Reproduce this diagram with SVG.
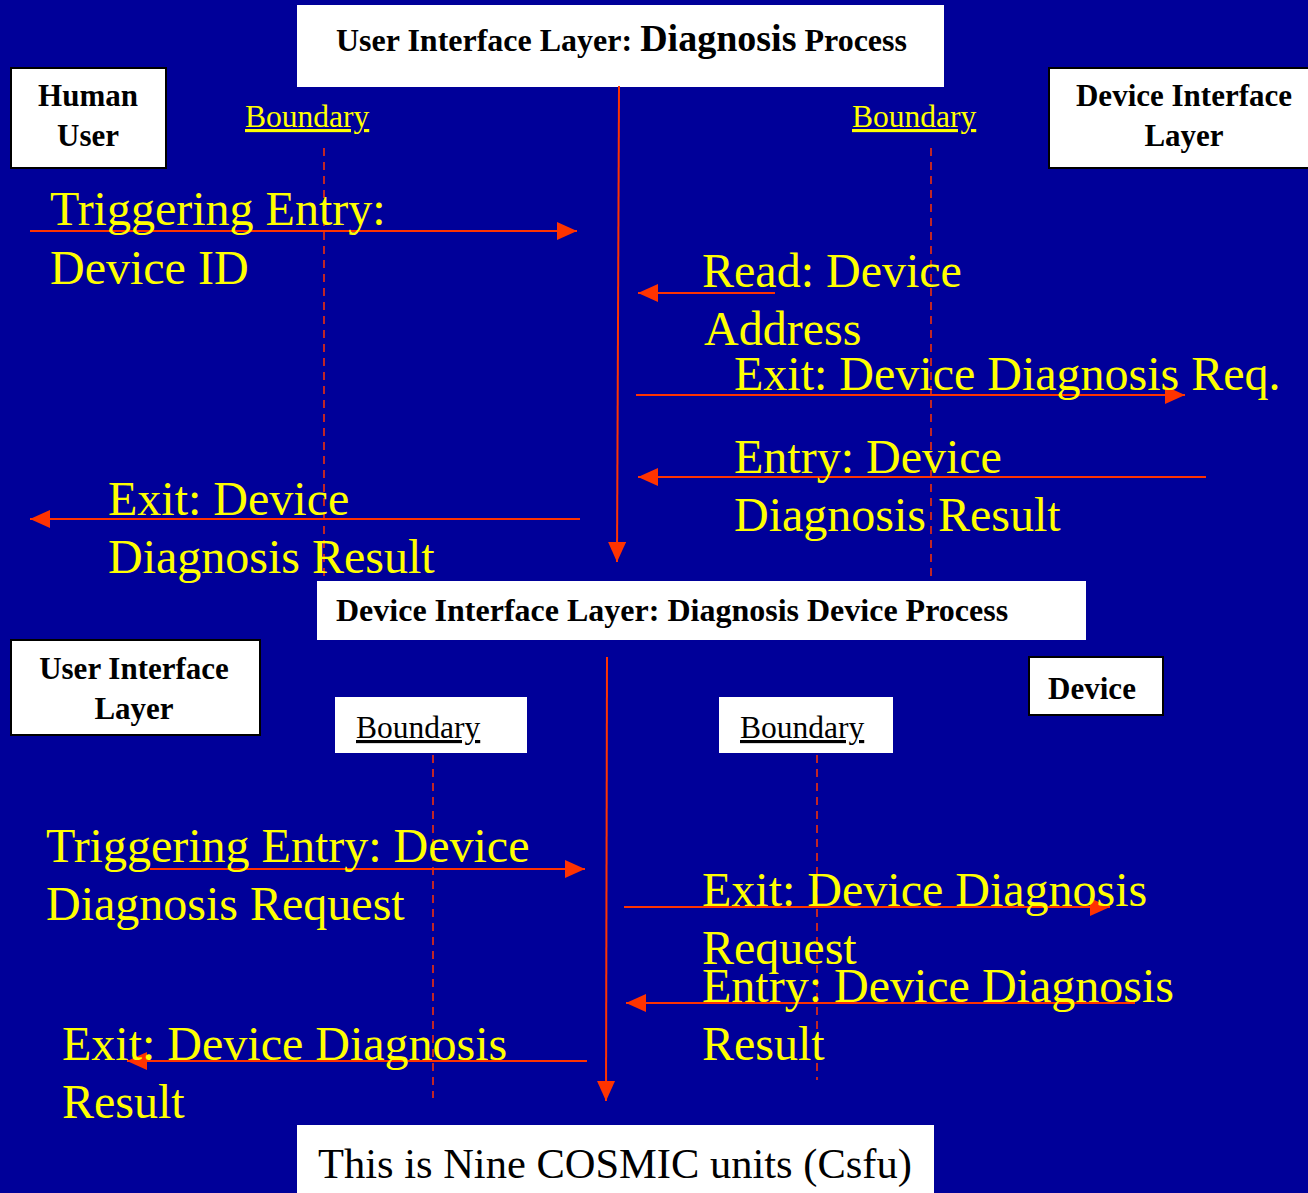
<svg xmlns="http://www.w3.org/2000/svg" width="1308" height="1193" viewBox="0 0 1308 1193">
  <defs>
    <marker id="head" viewBox="0 0 20 18" refX="20" refY="9" markerWidth="20" markerHeight="18" markerUnits="userSpaceOnUse" orient="auto">
      <path d="M0,0 L20,9 L0,18 Z" fill="#ff3300"/>
    </marker>
    <style>
      .box { fill: #ffffff; }
      .actor { fill: #ffffff; stroke: #000000; stroke-width: 2; }
      .bold { font-family: "Liberation Serif", "Times New Roman", serif; font-weight: bold; font-size: 31px; fill: #000000; }
      .title { font-size: 32px; }
      .msg { font-family: "Liberation Serif", "Times New Roman", serif; font-size: 48px; fill: #ffff00; }
      .bnd { font-family: "Liberation Serif", "Times New Roman", serif; font-size: 31.5px; text-decoration: underline; }
      .flow { stroke: #ff3300; stroke-width: 2; fill: none; marker-end: url(#head); }
      .dash { stroke: #ff3300; stroke-width: 1.5; stroke-dasharray: 8 6; fill: none; }
    </style>
  </defs>

  <rect x="0" y="0" width="1308" height="1193" fill="#000099"/>

  <!-- Upper scenario: user interface layer -->
  <g id="ui-process-title">
    <rect class="box" x="297" y="5" width="647" height="82"/>
    <text x="336" y="51" class="bold title">User Interface Layer: <tspan font-size="38px">Diagnosis</tspan> Process</text>
  </g>
  <g id="human-user">
    <rect class="actor" x="11" y="68" width="155" height="100"/>
    <text x="88" y="106" class="bold" text-anchor="middle">Human</text>
    <text x="88" y="146" class="bold" text-anchor="middle">User</text>
  </g>
  <g id="device-interface-layer">
    <rect class="actor" x="1049" y="68" width="270" height="100"/>
    <text x="1184" y="106" class="bold" text-anchor="middle">Device Interface</text>
    <text x="1184" y="146" class="bold" text-anchor="middle">Layer</text>
  </g>
  <g id="boundary-left-top">
    <text x="245" y="127" class="bnd" fill="#ffff00">Boundary</text>
  </g>
  <g id="boundary-right-top">
    <text x="852" y="127" class="bnd" fill="#ffff00">Boundary</text>
  </g>

  <!-- Lower scenario: device interface layer -->
  <g id="device-process-title">
    <rect class="box" x="317" y="581" width="769" height="59"/>
    <text x="336" y="621" class="bold title">Device Interface Layer: Diagnosis Device Process</text>
  </g>
  <g id="user-interface-layer">
    <rect class="actor" x="11" y="640" width="249" height="95"/>
    <text x="134" y="679" class="bold" text-anchor="middle">User Interface</text>
    <text x="134" y="719" class="bold" text-anchor="middle">Layer</text>
  </g>
  <g id="device">
    <rect class="actor" x="1029" y="657" width="134" height="58"/>
    <text x="1092" y="699" class="bold" text-anchor="middle">Device</text>
  </g>
  <g id="boundary-left-bottom">
    <rect class="box" x="335" y="697" width="192" height="56"/>
    <text x="356" y="738" class="bnd" fill="#000000">Boundary</text>
  </g>
  <g id="boundary-right-bottom">
    <rect class="box" x="719" y="697" width="174" height="56"/>
    <text x="740" y="738" class="bnd" fill="#000000">Boundary</text>
  </g>

  <g id="unit-count">
    <rect class="box" x="297" y="1125" width="637" height="75"/>
    <text x="318" y="1178" font-family="Liberation Serif, Times New Roman, serif" font-size="42.5" fill="#000000">This is Nine COSMIC units (Csfu)</text>
  </g>

  <!-- Lifelines, boundaries and data movements -->
  <g id="connectors">
    <line class="dash" x1="324" y1="148" x2="324" y2="578"/>
    <line class="dash" x1="931" y1="148" x2="931" y2="578"/>
    <line class="flow" x1="619" y1="86" x2="617" y2="562"/>

    <line class="flow" x1="30" y1="231" x2="577" y2="231"/>
    <line class="flow" x1="775" y1="293" x2="638" y2="293"/>
    <line class="flow" x1="636" y1="395" x2="1185" y2="395"/>
    <line class="flow" x1="1206" y1="477" x2="638" y2="477"/>
    <line class="flow" x1="580" y1="519" x2="30" y2="519"/>

    <line class="dash" x1="433" y1="755" x2="433" y2="1098"/>
    <line class="dash" x1="817" y1="755" x2="817" y2="1080"/>
    <line class="flow" x1="607" y1="657" x2="606" y2="1101"/>

    <line class="flow" x1="150" y1="869" x2="585" y2="869"/>
    <line class="flow" x1="624" y1="907" x2="1110" y2="907"/>
    <line class="flow" x1="1135" y1="1003" x2="626" y2="1003"/>
    <line class="flow" x1="587" y1="1061" x2="127" y2="1061"/>
  </g>

  <!-- Message labels -->
  <g id="labels">
    <text class="msg" x="50" y="225">Triggering Entry:</text>
    <text class="msg" x="50" y="284">Device ID</text>
    <text class="msg" x="702" y="287">Read: Device</text>
    <text class="msg" x="704" y="345">Address</text>
    <text class="msg" x="734" y="390">Exit: Device Diagnosis Req.</text>
    <text class="msg" x="734" y="473">Entry: Device</text>
    <text class="msg" x="734" y="531">Diagnosis Result</text>
    <text class="msg" x="108" y="515">Exit: Device</text>
    <text class="msg" x="108" y="573">Diagnosis Result</text>

    <text class="msg" x="46" y="862">Triggering Entry: Device</text>
    <text class="msg" x="46" y="920">Diagnosis Request</text>
    <text class="msg" x="702" y="906">Exit: Device Diagnosis</text>
    <text class="msg" x="702" y="964">Request</text>
    <text class="msg" x="702" y="1002">Entry: Device Diagnosis</text>
    <text class="msg" x="702" y="1060">Result</text>
    <text class="msg" x="62" y="1060">Exit: Device Diagnosis</text>
    <text class="msg" x="62" y="1118">Result</text>
  </g>
</svg>
